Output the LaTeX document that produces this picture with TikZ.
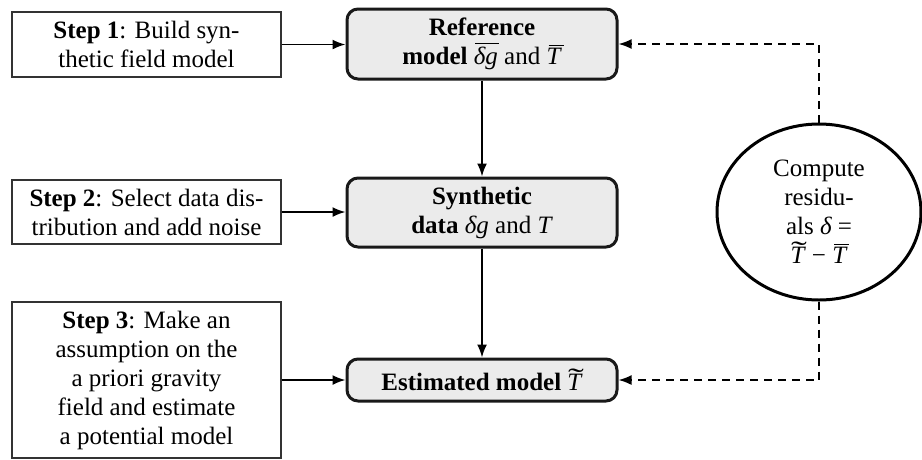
\documentclass[tikz,border=0pt]{standalone}
\usepackage{fontspec}
\setmainfont{Liberation Serif}
\usetikzlibrary{arrows.meta,shapes.geometric}
\newcommand{\mT}{\hbox{\itshape T\kern0.05em}}
\newcommand{\mdg}{\hbox{\itshape δg}}
\newcommand{\md}{\hbox{\itshape δ}}
\newcommand{\barT}{\hbox{\itshape\setbox0\hbox{T}\rlap{\kern0.08em\rule[0.74em]{0.6em}{0.05em}}T\kern0.05em}}
\newcommand{\bardg}{\hbox{\itshape\setbox0\hbox{δg}\rlap{\kern0.05em\rule[0.82em]{\wd0}{0.05em}}δg}}
\newcommand{\tilT}{\hbox{\itshape\setbox0\hbox{T}\rlap{\hbox to\wd0{\hss\kern0.12em\raisebox{0.13em}{\upshape\scalebox{1.9}[1.1]{\char"02DC}}\hss}}T\kern0.05em}}
\begin{document}
\begin{tikzpicture}[x=1pt,y=-1pt,
  every node/.style={font=\fontsize{25}{29}\selectfont},
  stepbox/.style={draw=black!80,line width=1.4pt,fill=white,align=center,inner sep=0pt,minimum width=269pt},
  modelbox/.style={draw=black!90,line width=3pt,fill=black!8,rounded corners=11pt,align=center,inner sep=0pt,minimum width=270pt},
  arr/.style={line width=1.8pt,-{Latex[length=13pt,width=10pt]}},
  darr/.style={line width=1.8pt,dash pattern=on 8pt off 6pt,-{Latex[length=13pt,width=10pt]}}]
\useasboundingbox (0,0) rectangle (922,459);
\node[stepbox,minimum height=65pt] (s1) at (146.5,44.5) {\textbf{Step 1}: Build syn-\\thetic field model};
\node[stepbox,minimum height=64pt] (s2) at (146.5,212) {\textbf{Step 2}: Select data dis-\\tribution and add noise};
\node[stepbox,minimum height=156pt] (s3) at (146.5,380) {\textbf{Step 3}: Make an\\assumption on the\\a priori gravity\\field and estimate\\a potential model};
\node[modelbox,minimum height=70pt] (ref) at (482,44) {\textbf{Reference}\\\textbf{model} \bardg{} and \barT};
\node[modelbox,minimum height=69pt] (syn) at (482,212.5) {\textbf{Synthetic}\\\textbf{data} \mdg{} and \mT};
\node[modelbox,minimum height=42pt] (est) at (482,380) {\textbf{Estimated model} \tilT};
\node[ellipse,draw,line width=3pt,minimum width=204pt,minimum height=176pt,inner sep=0pt,align=center] (res) at (819,212) {Compute\\residu-\\als \md{} =\\\tilT{} − \barT};
\draw[arr] (s1.east) -- (ref.west|-s1.east);
\draw[arr] (s2.east) -- (syn.west|-s2.east);
\draw[arr] (s3.east) -- (est.west|-s3.east);
\draw[arr] (ref) -- (syn);
\draw[arr] (syn) -- (est);
\draw[darr] (res.north) |- (ref.east);
\draw[darr] (res.south) |- (est.east);
\end{tikzpicture}
\end{document}
